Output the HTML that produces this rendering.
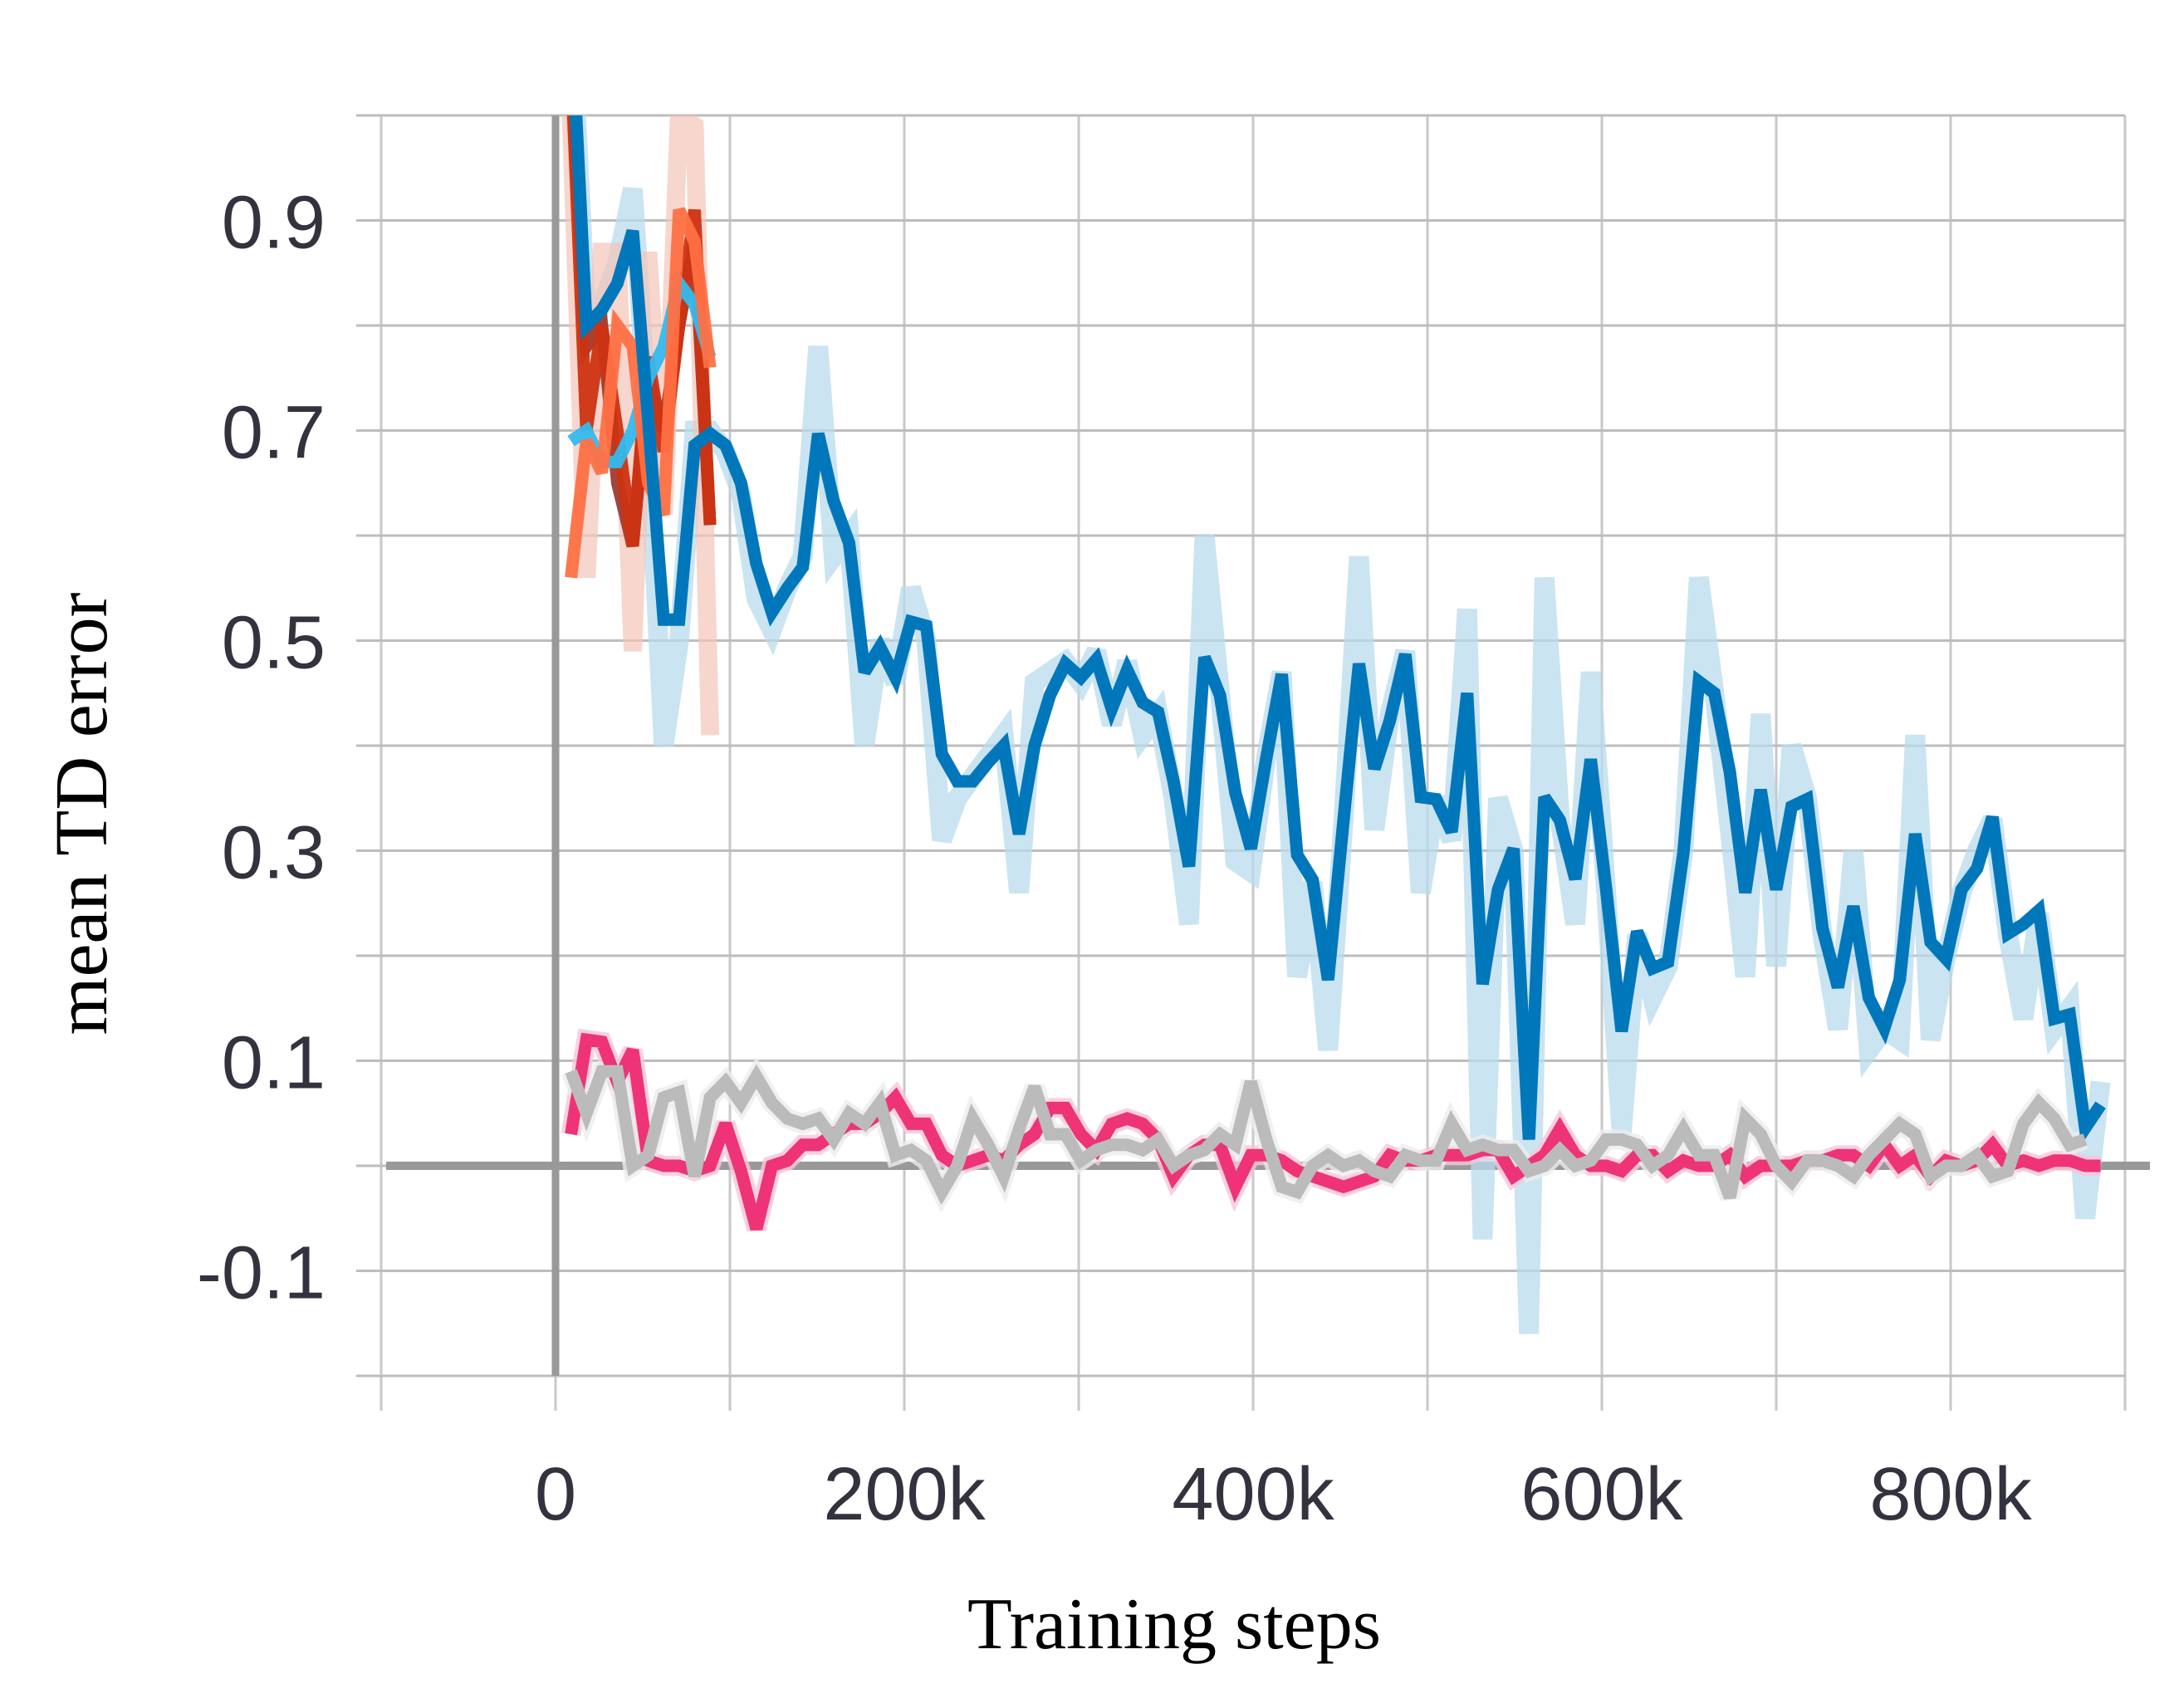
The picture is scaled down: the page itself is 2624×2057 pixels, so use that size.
<!DOCTYPE html>
<html><head><meta charset="utf-8"><style>
html,body{margin:0;padding:0;background:#fff;}
svg{display:block;}
</style></head><body>
<svg id="chart" width="2624" height="2057" viewBox="0 0 2624 2057" xmlns="http://www.w3.org/2000/svg">
<defs><clipPath id="plotclip"><rect x="459" y="139" width="2100" height="1518"/></clipPath></defs>
<g id="grid"></g>
<g id="series" clip-path="url(#plotclip)"></g>
<g id="labels"></g>
<text x="1414" y="1985" text-anchor="middle" font-family="'Liberation Serif', serif" font-size="88" fill="#000">Training steps</text>
<text transform="translate(128,980) rotate(-90)" text-anchor="middle" font-family="'Liberation Serif', serif" font-size="90" fill="#000">mean TD error</text>
</svg>
<script>
const xTicks=[0,200000,400000,600000,800000];
const xTickLabels=["0","200k","400k","600k","800k"];
const yTicks=[0.9,0.7,0.5,0.3,0.1,-0.1];
const yTickLabels=["0.9","0.7","0.5","0.3","0.1","-0.1"];
const stride=8860;
const blue=[1.1,0.80,0.815,0.84,0.89,0.71,0.52,0.52,0.686,0.697,0.686,0.65,0.573,0.527,0.55,0.57,0.697,0.633,0.593,0.47,0.494,0.465,0.518,0.514,0.392,0.366,0.366,0.384,0.40,0.316,0.40,0.448,0.478,0.465,0.482,0.435,0.472,0.441,0.432,0.366,0.285,0.484,0.448,0.355,0.302,0.388,0.468,0.296,0.272,0.177,0.329,0.478,0.378,0.424,0.487,0.351,0.349,0.318,0.45,0.173,0.263,0.302,0.025,0.351,0.329,0.273,0.387,0.263,0.128,0.223,0.188,0.194,0.298,0.461,0.45,0.375,0.26,0.358,0.263,0.342,0.349,0.226,0.17,0.247,0.16,0.131,0.177,0.316,0.213,0.197,0.263,0.283,0.332,0.221,0.23,0.243,0.14,0.144,0.036,0.058];
const blueRaw=[1.1,0.80,0.82,0.86,0.93,0.70,0.40,0.50,0.70,0.70,0.68,0.64,0.54,0.51,0.55,0.58,0.78,0.58,0.60,0.40,0.50,0.46,0.55,0.50,0.31,0.35,0.37,0.39,0.41,0.26,0.46,0.47,0.48,0.46,0.49,0.42,0.48,0.41,0.43,0.35,0.23,0.60,0.45,0.29,0.28,0.39,0.47,0.18,0.27,0.11,0.33,0.58,0.32,0.43,0.49,0.26,0.35,0.31,0.53,-0.07,0.35,0.30,-0.16,0.56,0.33,0.23,0.47,0.26,0.03,0.22,0.16,0.19,0.30,0.56,0.45,0.32,0.18,0.43,0.19,0.40,0.35,0.22,0.13,0.30,0.11,0.13,0.12,0.41,0.12,0.20,0.26,0.30,0.33,0.22,0.14,0.24,0.13,0.15,-0.05,0.08];
const pink=[0.03,0.12,0.118,0.08,0.11,0.005,0.0,0.0,-0.005,0.0,0.04,-0.005,-0.06,0.0,0.005,0.02,0.02,0.03,0.04,0.04,0.05,0.065,0.04,0.04,0.01,0.0,0.005,0.01,0.005,0.02,0.03,0.055,0.055,0.03,0.015,0.04,0.045,0.04,0.025,-0.01,0.01,0.02,0.02,-0.02,0.01,0.01,0.005,-0.005,-0.01,-0.015,-0.02,-0.015,-0.01,0.01,0.005,0.005,0.01,0.01,0.01,0.015,0.015,-0.01,0.0,0.01,0.035,0.01,0.0,0.0,-0.005,0.01,0.01,-0.005,0.005,0.0,0.0,0.01,-0.01,0.0,0.0,0.0,0.005,0.005,0.01,0.01,0.0,0.02,0.0,0.01,-0.01,0.005,0.0,0.005,0.02,0.0,0.005,0.0,0.005,0.005,0.0,0.0];
const gray=[0.09,0.05,0.09,0.09,0.0,0.01,0.065,0.07,-0.01,0.065,0.08,0.06,0.085,0.06,0.045,0.04,0.045,0.025,0.05,0.04,0.06,0.01,0.015,0.005,-0.025,0.0,0.045,0.02,-0.01,0.035,0.075,0.03,0.03,0.005,0.015,0.02,0.02,0.015,0.025,0.0,0.01,0.015,0.03,0.02,0.08,0.025,-0.02,-0.025,0.0,0.01,0.0,0.005,-0.005,-0.01,0.01,0.005,0.005,0.04,0.015,0.02,0.015,0.015,-0.005,0.0,0.015,0.0,0.005,0.025,0.025,0.02,0.0,0.01,0.035,0.01,0.01,-0.03,0.045,0.03,0.0,-0.015,0.005,0.005,0.0,-0.01,0.01,0.025,0.04,0.03,-0.01,0.0,0.0,0.01,-0.01,-0.005,0.04,0.06,0.045,0.02,0.025];
const salmonRaw=[1.0,0.56,0.87,0.87,0.49,0.87,0.62,1.0,0.99,0.41];
const brown=[1.05,0.78,0.80,0.65,0.59,0.75,0.70,0.80,0.88,0.61];
const red=[1.05,0.70,0.80,0.70,0.59,0.77,0.68,0.80,0.91,0.61];
const cyan=[0.69,0.70,0.67,0.67,0.70,0.75,0.78,0.84,0.82,0.77];
const orange=[0.56,0.69,0.66,0.80,0.78,0.65,0.62,0.91,0.88,0.76];

const NS="http://www.w3.org/2000/svg";
const X0=459,X1=2559,Y0=1657,Y1=139;
const xs=v=>X0+(v-(-100000))/(1000000)*(X1-X0);
const ys=v=>Y0-(v-(-0.2))/1.2*(Y0-Y1);
const grid=document.getElementById('grid'),ser=document.getElementById('series'),lab=document.getElementById('labels');
function mk(tag,attrs,parent){const e=document.createElementNS(NS,tag);for(const k in attrs)e.setAttribute(k,attrs[k]);parent.appendChild(e);return e;}
for(let i=-1;i<=9;i++){const x=xs(i*100000);
 const l=mk('line',{x1:x,x2:x,y1:Y1,y2:Y0+42,stroke:'#c8c8c8','stroke-width':3},grid);
 
 }
for(let i=-2;i<=10;i++){const y=ys(i/10);
 const l=mk('line',{x1:X0-30,x2:X1,y1:y,y2:y,stroke:'#bdbdbd','stroke-width':3},grid);
 
 }
const za=mk('line',{x1:xs(0),x2:xs(0),y1:Y1,y2:Y0,stroke:'#999','stroke-width':9},grid);


const zh=mk('line',{x1:X0+6,x2:X1+30,y1:ys(0),y2:ys(0),stroke:'#999','stroke-width':10},grid);


xTicks.forEach((t,i)=>{const e=mk('text',{x:xs(t),y:1830,'text-anchor':'middle','font-family':"'Liberation Sans',sans-serif",'font-size':90,'font-weight':300,fill:'#33333f'},lab);e.textContent=xTickLabels[i];
 
 });
yTicks.forEach((t,i)=>{const e=mk('text',{x:392,y:ys(t)+33,'text-anchor':'end','font-family':"'Liberation Sans',sans-serif",'font-size':90,'font-weight':300,fill:'#33333f'},lab);e.textContent=yTickLabels[i];
 
 });
function line(arr,color,w,op,name){const pts=arr.map((v,i)=>xs((i+1)*stride).toFixed(1)+','+ys(v).toFixed(1)).join(' ');
 const p=mk('polyline',{points:pts,fill:'none',stroke:color,'stroke-width':w,'stroke-opacity':op,'stroke-linejoin':'miter','stroke-miterlimit':3},ser);
 
 }
line(blueRaw,'#b9dbee',24,0.75,'blue-raw-line');
line(salmonRaw,'#f3c4b8',22,0.7,'salmon-raw-line');
line(pink,'#f9c6d8',24,0.8,'pink-raw-line');
line(gray,'#ececec',24,0.8,'gray-raw-line');
line(brown,'#9e3b30',15,0.95,'brown-line');
line(red,'#cc3311',15,0.95,'red-line');
line(cyan,'#33bbee',15,0.95,'cyan-line');
line(orange,'#ff7043',15,0.95,'orange-line');
line(blue,'#0077bb',15,1,'blue-line');
line(pink,'#ee3377',15,1,'magenta-line');
line(gray,'#bbbbbb',15,1,'gray-line');
</script>
</body></html>
